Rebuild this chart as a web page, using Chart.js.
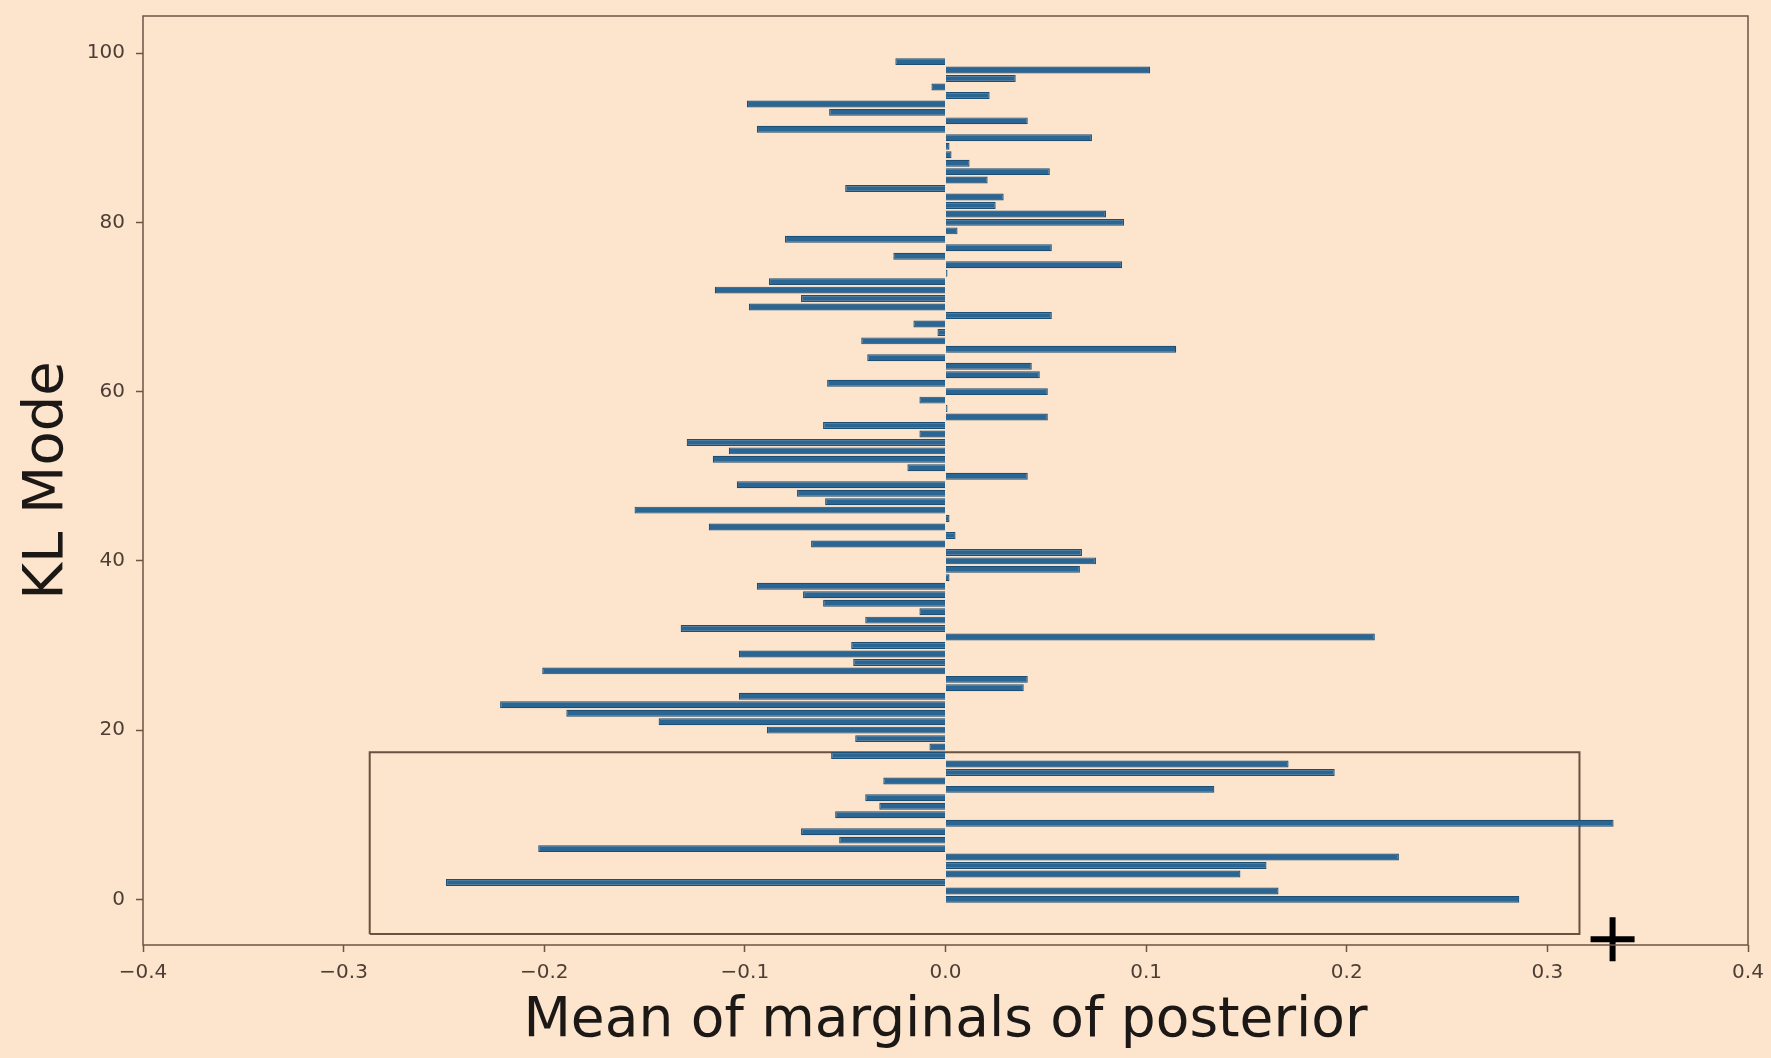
<!DOCTYPE html>
<html>
<head>
<meta charset="utf-8">
<title>KL Mode - Mean of marginals of posterior</title>
<script src="https://cdn.jsdelivr.net/npm/chart.js@4.4.1/dist/chart.umd.min.js"></script>
<style>
  html, body { margin: 0; padding: 0; background: #fde4cd; }
  #wrap { width: 1771px; height: 1058px; position: relative; }
</style>
</head>
<body>
<div id="wrap"><canvas id="klChart"></canvas></div>
<script>
// KL mode index of each bar (bottom to top)
const modes = [
    0, 1, 2, 3, 4, 5, 6, 7, 8, 9,
    10, 11, 12, 13, 14, 15, 16, 17, 18, 19,
    20, 21, 22, 23, 24, 25, 26, 27, 28, 29,
    30, 31, 32, 33, 34, 35, 36, 37, 38, 39,
    40, 41, 42, 43, 44, 45, 46, 47, 48, 49,
    50, 51, 52, 53, 54, 55, 56, 57, 58, 59,
    60, 61, 62, 63, 64, 65, 66, 67, 68, 69,
    70, 71, 72, 73, 74, 75, 76, 77, 78, 79,
    80, 81, 82, 83, 84, 85, 86, 87, 88, 89,
    90, 91, 92, 93, 94, 95, 96, 97, 98, 99
];

// Mean of marginals of posterior, one per mode
const meanValues = [
    0.286, 0.166, -0.249, 0.147, 0.160, 0.226, -0.203, -0.053, -0.072, 0.333,
    -0.055, -0.033, -0.040, 0.134, -0.031, 0.194, 0.171, -0.057, -0.008, -0.045,
    -0.089, -0.143, -0.189, -0.222, -0.103, 0.039, 0.041, -0.201, -0.046, -0.103,
    -0.047, 0.214, -0.132, -0.040, -0.013, -0.061, -0.071, -0.094, 0.002, 0.067,
    0.075, 0.068, -0.067, 0.005, -0.118, 0.002, -0.155, -0.060, -0.074, -0.104,
    0.041, -0.019, -0.116, -0.108, -0.129, -0.013, -0.061, 0.051, 0.001, -0.013,
    0.051, -0.059, 0.047, 0.043, -0.039, 0.115, -0.042, -0.004, -0.016, 0.053,
    -0.098, -0.072, -0.115, -0.088, 0.001, 0.088, -0.026, 0.053, -0.080, 0.006,
    0.089, 0.080, 0.025, 0.029, -0.050, 0.021, 0.052, 0.012, 0.003, 0.002,
    0.073, -0.094, 0.041, -0.058, -0.099, 0.022, -0.007, 0.035, 0.102, -0.025
];

const xTicks = [-0.4, -0.3, -0.2, -0.1, 0.0, 0.1, 0.2, 0.3, 0.4];
const yTicks = [0, 20, 40, 60, 80, 100];

// highlight box drawn around the first modes
const boxX = [-0.287, 0.316, 0.316, -0.287, -0.287];
const boxY = [-4.1, -4.1, 17.4, 17.4, -4.1];

// cross marker sitting on the bottom axis
const markerX = [0.3325];
const markerY = [-4.72];

const X_MIN = -0.4, X_MAX = 0.4;
const Y_MIN = -5.39, Y_MAX = 104.39;

const axisColor = '#6e5444';
const tickTextColor = '#4d3e35';
const titleColor = '#1c1816';

Chart.defaults.font.family = "'DejaVu Sans', sans-serif";

// matplotlib-style frame round the plot area
const framePlugin = {
    id: 'frame',
    afterDraw(chart) {
        const { ctx, chartArea: a } = chart;
        ctx.save();
        ctx.strokeStyle = axisColor;
        ctx.lineWidth = 1.5;
        ctx.strokeRect(a.left, a.top, a.right - a.left, a.bottom - a.top);
        ctx.restore();
    }
};

function minusSign(s) {
    return s.replace('-', '\u2212');
}

document.addEventListener('DOMContentLoaded', function() {
    const ctx = document.getElementById('klChart').getContext('2d');
    new Chart(ctx, {
        type: 'bar',
        data: {
            datasets: [{
                type: 'bar',
                indexAxis: 'y',
                label: 'Mean of marginals',
                data: modes.map((m, i) => ({ x: meanValues[i], y: m })),
                backgroundColor: '#2a6694',
                borderColor: '#1d4e74',
                borderWidth: 1.2,
                barPercentage: 0.82,
                categoryPercentage: 1.0
            }, {
                type: 'scatter',
                label: 'box',
                data: boxX.map((x, i) => ({ x: x, y: boxY[i] })),
                showLine: true,
                borderColor: '#6a5141',
                borderWidth: 2,
                pointRadius: 0,
                fill: false
            }, {
                type: 'scatter',
                label: 'marker',
                data: markerX.map((x, i) => ({ x: x, y: markerY[i] })),
                pointStyle: 'cross',
                pointRadius: 22,
                pointBorderWidth: 6,
                borderColor: '#000000',
                backgroundColor: '#000000',
                clip: false
            }]
        },
        options: {
            responsive: true,
            maintainAspectRatio: false,
            animation: false,
            layout: {
                autoPadding: false,
                padding: { left: 0, right: 23, top: 16, bottom: 0 }
            },
            plugins: {
                legend: { display: false },
                tooltip: { enabled: false }
            },
            scales: {
                x: {
                    type: 'linear',
                    min: X_MIN,
                    max: X_MAX,
                    offset: false,
                    afterBuildTicks: function(scale) {
                        scale.ticks = xTicks.map(v => ({ value: v }));
                    },
                    afterFit: function(scale) {
                        scale.height = 113;
                        scale.paddingLeft = 0;
                        scale.paddingRight = 0;
                    },
                    ticks: {
                        color: tickTextColor,
                        font: { size: 20 },
                        padding: 9,
                        maxRotation: 0,
                        autoSkip: false,
                        callback: function(value) {
                            return minusSign(Number(value).toFixed(1));
                        }
                    },
                    grid: {
                        offset: false,
                        drawOnChartArea: false,
                        drawTicks: true,
                        tickLength: 7,
                        tickColor: axisColor,
                        tickWidth: 1.5
                    },
                    border: { display: false },
                    title: {
                        display: true,
                        text: 'Mean of marginals of posterior',
                        color: titleColor,
                        font: { size: 55, lineHeight: 1 },
                        padding: { top: 0, bottom: 9 }
                    }
                },
                y: {
                    type: 'linear',
                    min: Y_MIN,
                    max: Y_MAX,
                    offset: false,
                    afterBuildTicks: function(scale) {
                        scale.ticks = yTicks.map(v => ({ value: v }));
                    },
                    afterFit: function(scale) {
                        scale.width = 143;
                        scale.paddingTop = 0;
                        scale.paddingBottom = 0;
                    },
                    ticks: {
                        color: tickTextColor,
                        font: { size: 20 },
                        padding: 11,
                        autoSkip: false,
                        callback: function(value) {
                            return String(value);
                        }
                    },
                    grid: {
                        offset: false,
                        drawOnChartArea: false,
                        drawTicks: true,
                        tickLength: 7,
                        tickColor: axisColor,
                        tickWidth: 1.5
                    },
                    border: { display: false },
                    title: {
                        display: true,
                        text: 'KL Mode',
                        color: titleColor,
                        font: { size: 56, lineHeight: 1 },
                        padding: { top: 19, bottom: 0 }
                    }
                }
            }
        },
        plugins: [framePlugin]
    });
});
</script>
</body>
</html>
